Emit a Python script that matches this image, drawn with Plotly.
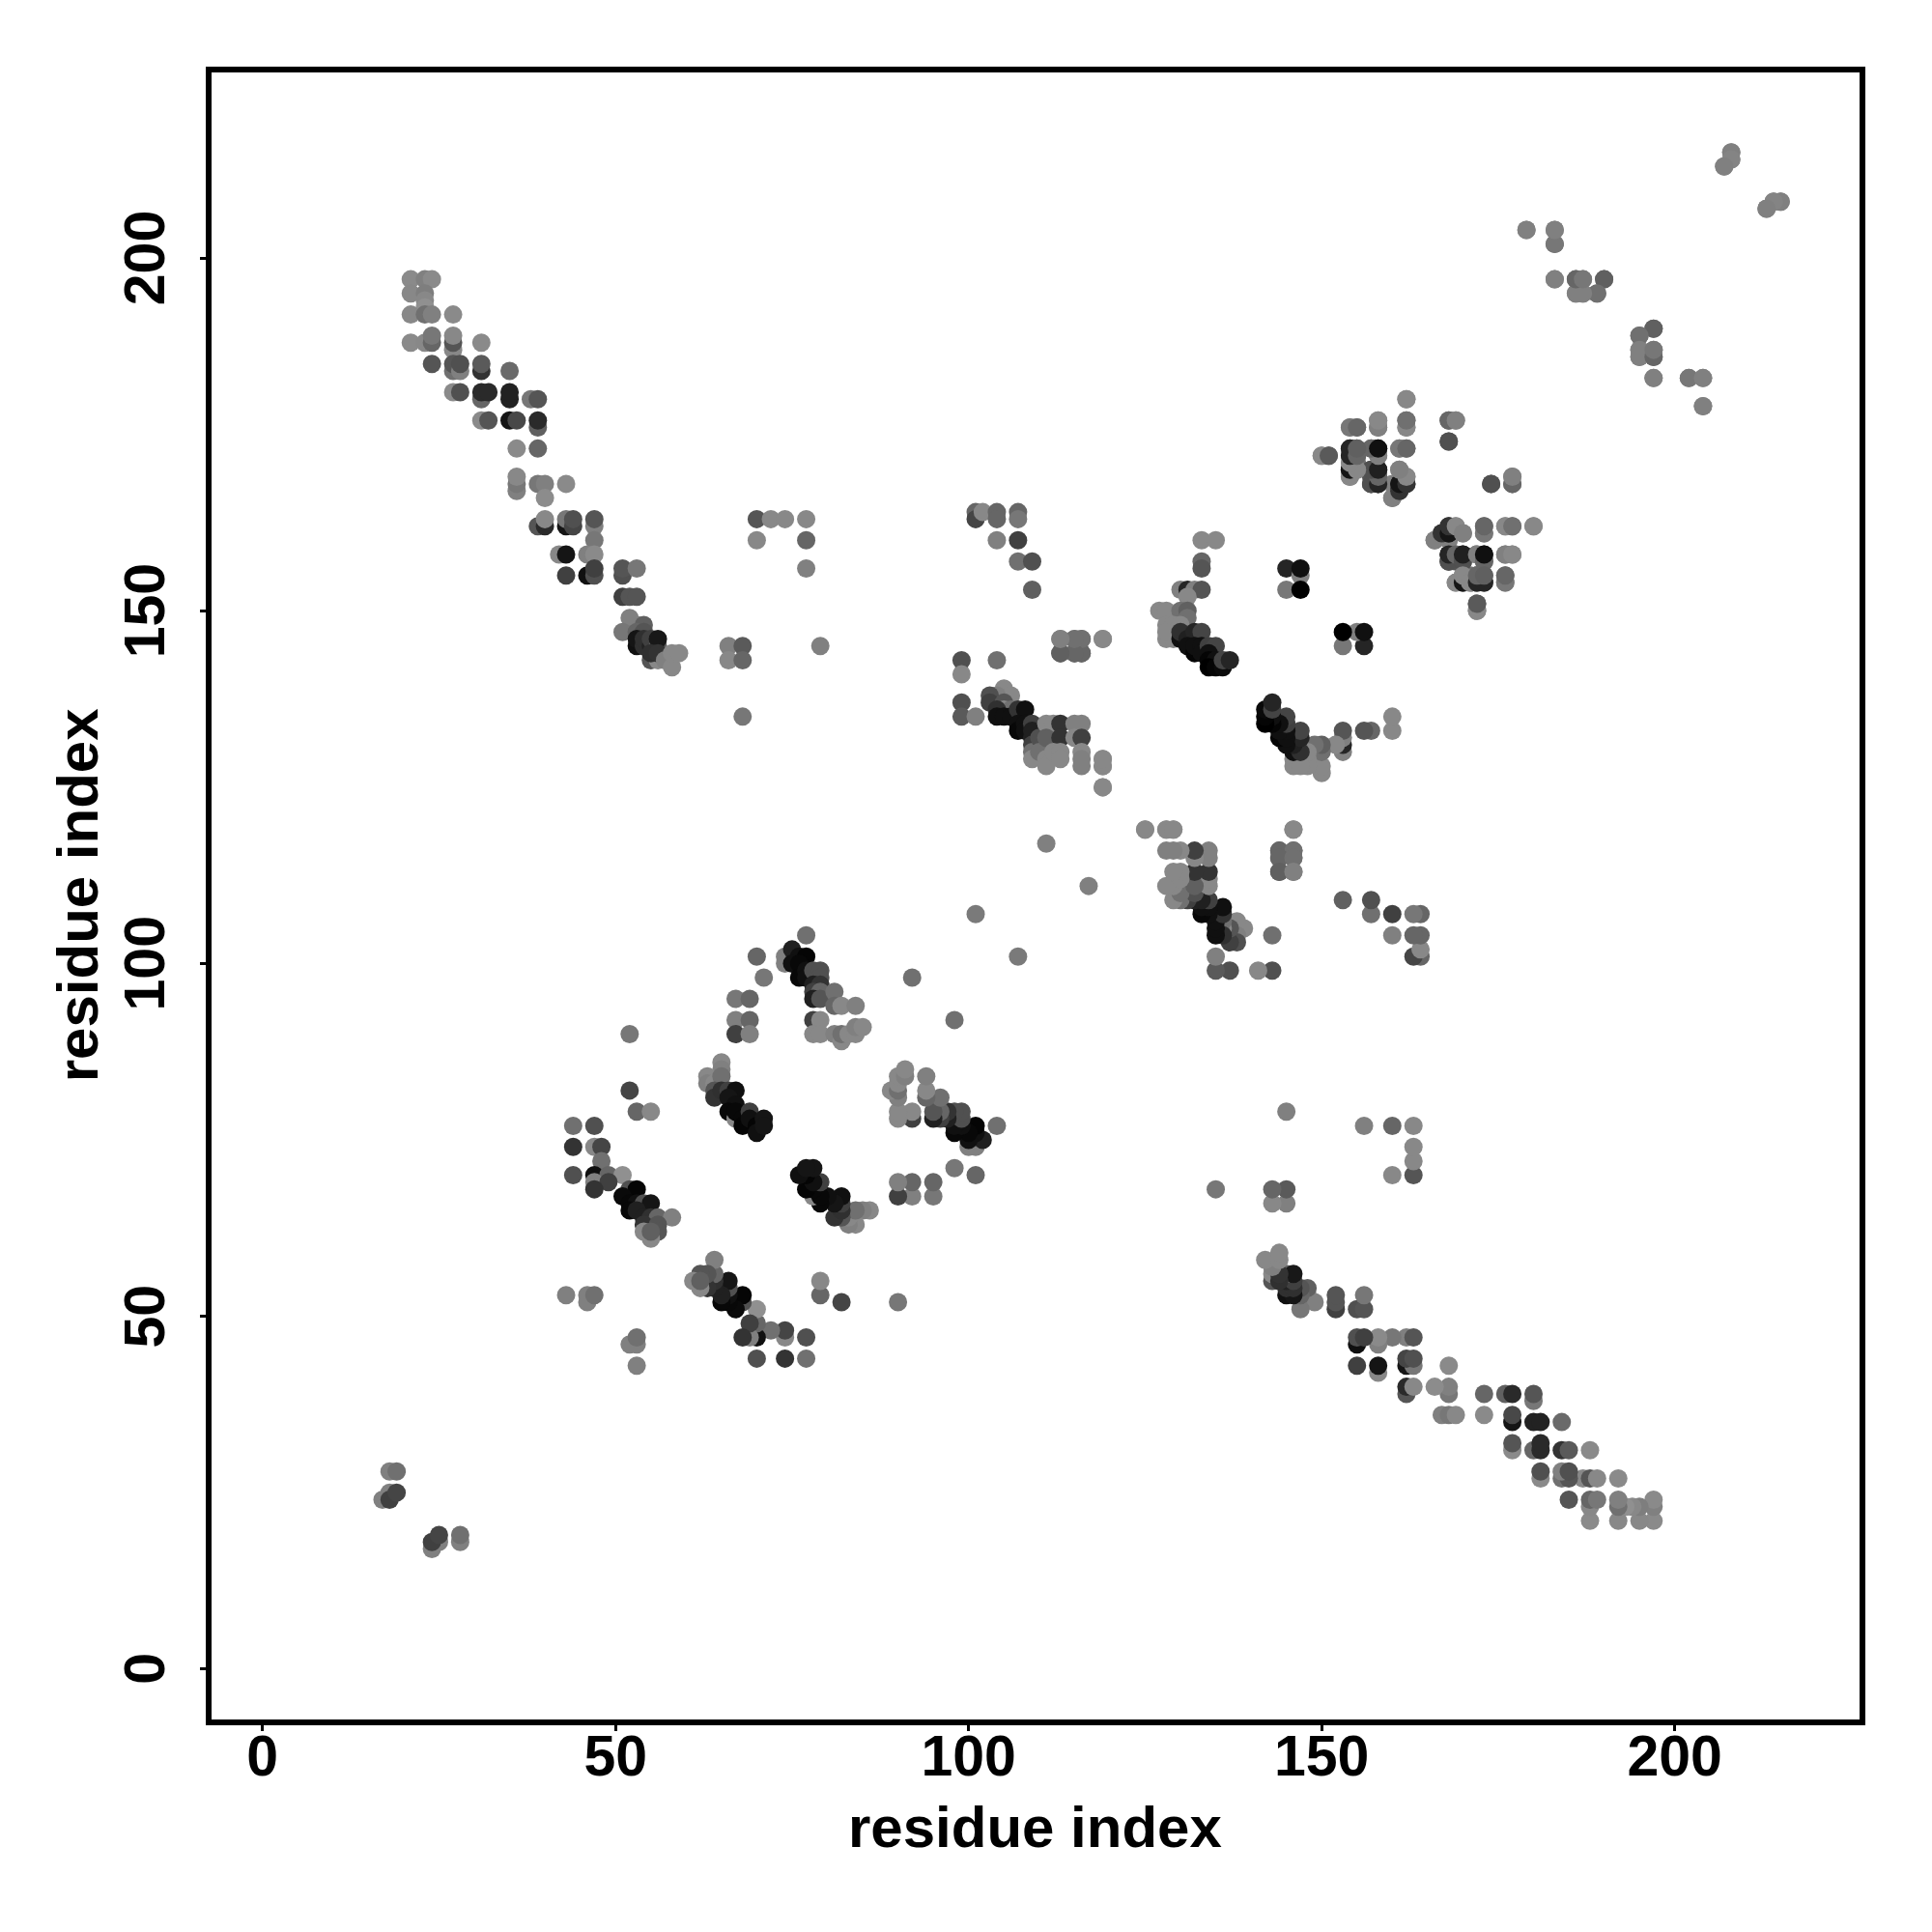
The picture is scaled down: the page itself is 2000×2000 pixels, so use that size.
import plotly.graph_objects as go

tick_values = [0, 50, 100, 150, 200]
axis_label = "residue index"

# contacts read from the upper triangle: (residue i, residue j, grey level)
n_terminal = [
    (18,28,0x80),(19,28,0x70),(17,24,0x80),(18,25,0x80),(18,24,0x40),(19,25,0x45),
]
strand_a1 = [
    (21,197,0x8a),(23,197,0x80),(24,197,0x8a),(21,195,0x88),(23,195,0x7e),(23,194,0x88),(23,193,0x90),
    (21,192,0x88),(23,192,0x70),(24,192,0x80),(27,192,0x8a),
    (21,188,0x8a),(23,188,0x88),(24,188,0x66),(24,189,0x77),(27,187,0x88),(27,188,0x55),(27,189,0x88),(31,188,0x8a),
    (24,185,0x55),(27,184,0x70),(27,185,0x55),(28,184,0x80),(28,185,0x50),(31,184,0x33),(31,185,0x5a),(35,184,0x6a),
    (27,181,0x8a),(28,181,0x50),(31,180,0x66),(31,181,0x2a),(32,181,0x2a),(35,180,0x22),(35,181,0x22),(38,180,0x77),(39,180,0x55),
    (31,177,0x8a),(32,177,0x55),(35,177,0x15),(36,177,0x48),(39,176,0x60),(39,177,0x2a),
    (36,173,0x8a),(39,173,0x66),
]
strand_a2 = [
    (36,167,0x80),(36,168,0x77),(36,169,0x88),(39,168,0x77),(40,168,0x80),(43,168,0x8a),(40,166,0x8c),
    (39,162,0x55),(40,162,0x2a),(40,163,0x88),(43,162,0x15),(43,163,0x77),(44,162,0x45),(44,163,0x50),
    (47,162,0x80),(47,163,0x55),(47,160,0x77),
    (42,158,0x88),(43,158,0x15),(46,158,0x80),(47,158,0x8a),
    (43,155,0x40),(46,155,0x10),(47,155,0x50),(47,156,0x40),
    (51,155,0x50),(51,156,0x55),(53,156,0x77),(51,152,0x40),(52,152,0x55),(53,152,0x55),
]
strand_a3 = [
    (52,149,0x80),(53,148,0x80),(54,148,0x60),(51,147,0x77),(53,147,0x66),(54,147,0x55),
    (53,145,0x10),(53,146,0x15),(54,145,0x30),(54,146,0x30),(55,145,0x22),(55,146,0x40),
    (56,145,0x60),(56,146,0x18),(55,143,0x55),(56,143,0x88),(55,144,0x30),(56,144,0x33),
    (57,143,0x80),(58,142,0x88),(58,144,0x88),(59,144,0x88),
]
sparse_left = [
    (66,145,0x80),(68,145,0x5a),(66,143,0x88),(68,143,0x66),(68,135,0x77),(79,145,0x80),
    (70,163,0x55),(72,163,0x88),(74,163,0x88),(77,163,0x88),(70,160,0x88),(77,160,0x66),(77,156,0x80),
    (43,53,0x80),(46,52,0x80),(46,53,0x80),(47,53,0x70),
    (52,90,0x77),(52,82,0x45),(53,79,0x66),(55,79,0x88),
    (70,101,0x66),(71,98,0x77),(92,98,0x70),(77,104,0x70),
    (101,107,0x7a),(111,117,0x80),
]
strand_b = [
    (44,77,0x70),(47,77,0x50),(44,74,0x33),(47,74,0x88),(48,74,0x45),(48,72,0x70),
    (44,70,0x50),(47,70,0x10),(49,70,0x66),(51,70,0x90),(47,69,0x80),(49,69,0x40),(47,68,0x33),
    (52,68,0x50),(53,68,0x05),(51,67,0x0a),(52,66,0x08),(53,66,0x10),(54,66,0x50),(55,66,0x15),
    (52,65,0x08),(53,65,0x20),(54,64,0x20),(55,64,0x30),(56,64,0x66),(58,64,0x80),
    (54,63,0x33),(56,63,0x55),(54,62,0x88),(56,62,0x55),(55,61,0x88),(55,62,0x60),
]
strand_c = [
    (65,86,0x88),(65,85,0x80),(63,84,0x88),(63,83,0x80),(64,83,0x88),(65,84,0x70),
    (64,82,0x55),(64,81,0x33),(65,82,0x30),(66,82,0x40),(67,82,0x10),(66,81,0x15),(67,80,0x10),
    (66,79,0x08),(67,78,0x88),(67,79,0x08),(68,78,0x08),(68,77,0x05),(69,79,0x40),(69,78,0x10),
    (70,77,0x05),(70,76,0x10),(71,78,0x15),(71,77,0x15),
]
strand_d = [
    (74,101,0x80),(74,100,0x80),(75,102,0x20),(76,101,0x10),(77,101,0x05),(75,100,0x10),(76,100,0x08),
    (76,98,0x08),(77,99,0x10),(77,98,0x10),(78,99,0x50),(79,99,0x50),(79,98,0x50),
    (78,97,0x20),(79,97,0x33),(78,96,0x40),(79,96,0x66),(78,95,0x20),(79,95,0x55),
    (81,96,0x70),(81,94,0x66),(82,94,0x88),(84,94,0x80),
    (67,95,0x77),(69,95,0x66),(67,92,0x80),(69,92,0x66),(67,90,0x40),(69,90,0x80),
    (78,92,0x40),(79,92,0x88),(78,90,0x88),(79,90,0x88),
    (81,90,0x80),(82,89,0x88),(82,90,0x70),(83,90,0x88),(84,90,0x88),(84,91,0x80),(85,91,0x88),
]
strand_e = [
    (101,164,0x66),(101,163,0x45),(102,164,0x88),(104,164,0x66),(104,163,0x66),(107,164,0x66),(107,163,0x77),
    (104,160,0x80),(107,160,0x40),(107,157,0x70),(109,157,0x50),(109,153,0x60),
    (113,146,0x80),(115,146,0x80),(116,146,0x66),(119,146,0x88),(113,144,0x55),(115,144,0x55),(116,144,0x55),
    (99,143,0x50),(104,143,0x70),(99,141,0x88),(99,137,0x50),(99,135,0x5a),(101,135,0x80),
]
strand_f = [
    (105,139,0x88),(106,138,0x88),(104,138,0x80),(103,138,0x50),(103,137,0x40),(105,137,0x55),
    (105,136,0x88),(106,136,0x70),(104,136,0x30),(104,135,0x10),(105,135,0x10),(106,135,0x10),
    (107,136,0x33),(108,136,0x10),(107,134,0x10),(107,133,0x08),(108,134,0x10),(108,133,0x10),
    (109,134,0x40),(109,132,0x20),(109,133,0x20),(109,131,0x40),(109,130,0x70),(109,129,0x88),
    (110,132,0x50),(110,130,0x70),(111,134,0x88),(112,134,0x88),(113,134,0x33),(115,134,0x80),(116,134,0x80),
    (111,132,0x60),(113,132,0x33),(115,132,0x88),(116,132,0x40),
    (111,129,0x88),(111,128,0x88),(112,130,0x88),(113,130,0x88),(113,129,0x88),
    (116,130,0x88),(116,129,0x80),(116,128,0x80),(119,129,0x88),(119,128,0x88),(119,125,0x88),
    (125,119,0x88),(128,119,0x88),(129,119,0x88),(146,119,0x88),
    (144,116,0x66),(146,116,0x70),(144,115,0x66),(146,115,0x70),(144,113,0x60),(146,113,0x80),
]
strand_g = [
    (133,160,0x88),(135,160,0x88),(133,157,0x66),(133,156,0x55),
    (145,156,0x25),(147,155,0x80),(147,156,0x10),(145,153,0x77),(147,153,0x00),
    (130,153,0x80),(131,153,0x25),(132,153,0x80),(133,153,0x55),(131,152,0x88),
    (127,150,0x88),(128,150,0x88),(130,150,0x70),(131,150,0x60),(131,149,0x70),
    (128,148,0x88),(129,148,0x88),(130,148,0x88),(128,146,0x88),(129,146,0x88),(128,147,0x88),
    (130,146,0x10),(130,147,0x30),(131,146,0x20),(132,147,0x25),(133,147,0x45),(131,145,0x10),
    (132,144,0x05),(132,145,0x10),(133,145,0x10),(133,144,0x10),(134,145,0x40),(135,145,0x45),(134,144,0x10),
    (134,143,0x05),(135,143,0x10),(134,142,0x00),(135,142,0x05),(136,142,0x0a),(136,143,0x44),(137,143,0x25),
]
cluster_h = [
    (162,180,0x88),(162,177,0x66),(162,176,0x88),(158,176,0x70),(158,177,0x88),(154,176,0x80),(155,176,0x70),
    (168,177,0x60),(169,177,0x80),(168,174,0x50),(150,172,0x88),(151,172,0x55),
    (154,173,0x25),(155,173,0x55),(157,173,0x70),(158,172,0x66),(158,173,0x10),(154,172,0x25),(155,172,0x60),
    (161,173,0x80),(162,173,0x70),(154,170,0x15),(154,171,0x80),(155,171,0x70),(155,170,0x80),(154,169,0x80),
    (157,168,0x33),(158,168,0x15),(157,169,0x55),(158,169,0x50),(157,170,0x50),(158,170,0x18),
    (161,170,0x80),(160,168,0x80),(160,166,0x80),(161,167,0x30),(161,168,0x20),(162,168,0x33),(162,169,0x90),
    (174,168,0x50),(177,168,0x66),(177,169,0x80),
]
cluster_i = [
    (180,162,0x88),(176,162,0x88),(177,162,0x70),(173,161,0x77),(173,162,0x66),
    (166,160,0x80),(167,161,0x33),(168,161,0x15),(168,162,0x33),(169,162,0x88),(170,161,0x80),
    (168,157,0x50),(168,158,0x25),(169,158,0x66),(170,157,0x50),(170,158,0x20),
    (172,158,0x80),(173,157,0x66),(173,158,0x10),(176,158,0x80),(177,158,0x88),
    (176,154,0x77),(176,155,0x66),(169,154,0x88),(170,154,0x15),(170,155,0x88),(171,154,0x88),
    (172,154,0x25),(173,154,0x25),(172,155,0x66),(173,155,0x60),(172,150,0x88),(172,151,0x5a),
]
cluster_j = [
    (208,215,0x88),(208,214,0x88),(207,213,0x80),(215,208,0x80),(214,208,0x84),(213,207,0x80),
    (179,204,0x80),(183,204,0x80),(183,202,0x77),(183,197,0x80),(186,197,0x70),(187,197,0x80),(190,197,0x60),
    (186,195,0x80),(187,195,0x80),(189,195,0x70),(197,190,0x60),(195,189,0x70),
    (195,186,0x80),(195,187,0x80),(197,186,0x66),(197,187,0x77),(197,183,0x80),
    (202,183,0x77),(204,183,0x80),(204,179,0x80),
]

clusters = [n_terminal, strand_a1, strand_a2, strand_a3, sparse_left, strand_b, strand_c,
            strand_d, strand_e, strand_f, strand_g, cluster_h, cluster_i, cluster_j]

xs, ys, colors = [], [], []
for cluster in clusters:
    for i, j, g in cluster:
        for a, b in ((i, j), (j, i)):
            xs.append(a); ys.append(b); colors.append(f"rgb({g},{g},{g})")

fig = go.Figure(go.Scatter(x=xs, y=ys, mode="markers",
                           marker=dict(size=19, color=colors, line=dict(width=0)),
                           hoverinfo="skip"))
tick_font = dict(family="Liberation Sans", size=59, color="black", weight="bold")
title_font = dict(family="Liberation Sans", size=60, color="black", weight="bold")

L, R, T, B = 219, 75, 74.5, 220
W, H = 2000 - L - R, 2000 - T - B


def px_x(px):
    return (px - L) / W


def px_y(px):
    return (2000 - B - px) / H


axis = dict(tickvals=tick_values, ticks="outside", ticklen=6, tickwidth=3,
            tickcolor="black", showline=True, linewidth=6, linecolor="black", mirror=True,
            showgrid=False, zeroline=False, tickfont=tick_font)

annotations = [
    dict(text=axis_label, font=title_font, xref="paper", yref="paper", showarrow=False,
         x=px_x(1071), y=px_y(1892), xanchor="center", yanchor="middle"),
    dict(text=axis_label, font=title_font, xref="paper", yref="paper", showarrow=False,
         x=px_x(80), y=px_y(927), xanchor="center", yanchor="middle", textangle=-90),
]
for v in tick_values:
    annotations.append(dict(text=str(v), font=tick_font, xref="paper", yref="y", showarrow=False,
                            x=px_x(150), y=v, xanchor="center", yanchor="middle", textangle=-90))

fig.update_layout(
    width=2000, height=2000, autosize=False, showlegend=False,
    paper_bgcolor="white", plot_bgcolor="white",
    margin=dict(l=L, r=R, t=T, b=B, pad=0),
    xaxis=dict(axis, range=[-7.21, 226.17], ticklabelstandoff=-25),
    yaxis=dict(axis, range=[-7.16, 226.32], showticklabels=False),
    annotations=annotations,
)
fig.write_html("out.html", config={"displayModeBar": False},
               post_script="document.body.style.margin='0';")
